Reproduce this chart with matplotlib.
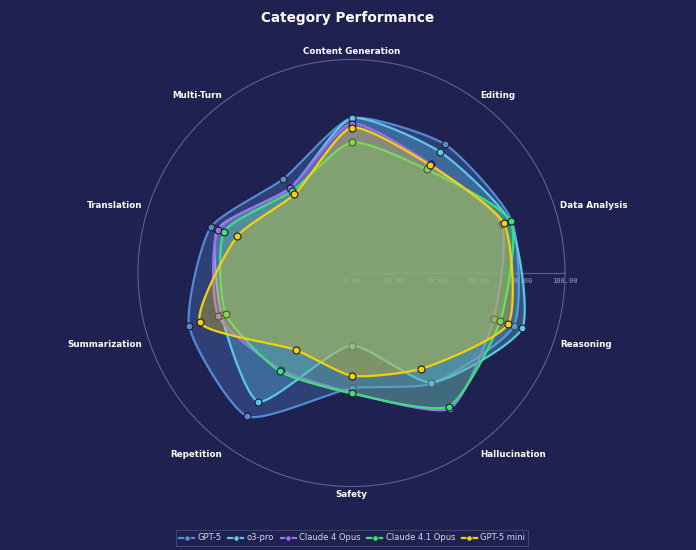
import matplotlib.pyplot as plt
import numpy as np
from matplotlib.lines import Line2D

categories = [
    "Content Generation", "Editing", "Data Analysis", "Reasoning", "Hallucination",
    "Safety", "Repetition", "Summarization", "Translation", "Multi-Turn",
]
models = ["GPT-5", "o3-pro", "Claude 4 Opus", "Claude 4.1 Opus", "GPT-5 mini"]
gpt5 = [72.5, 74.5, 79, 80, 64, 54, 83, 80, 69.3, 54.4]
o3_pro = [72.5, 70.3, 78, 84, 63.5, 34, 74.4, 64, 66, 49]
claude4_opus = [70, 63, 74, 70, 78.5, 56, 56, 65.6, 65.6, 49.2]
claude41_opus = [61.2, 60, 78.5, 73.2, 77.3, 56.4, 57, 62, 62.7, 47.4]
gpt5_mini = [68.1, 62.5, 75.1, 77.2, 55.5, 48.1, 44.5, 74.7, 56.2, 45.5]
radial_ticks = [0, 20, 40, 60, 80, 100]

colors = ["#5589d2", "#5cc8e8", "#9d6ff0", "#3ee07a", "#f5d10a"]
BG = "#1f2150"
SMOOTHING = 0.6


def smooth_closed(theta, r, smoothness=SMOOTHING, steps=40):
    # plotly-like spline (catmull-rom, exponent 0.5) computed in x/y space
    pts = np.column_stack([r * np.cos(theta), r * np.sin(theta)])
    n = len(pts)
    before, after = [], []
    for i in range(n):
        d1 = pts[i - 1] - pts[i]
        d2 = pts[(i + 1) % n] - pts[i]
        d1a = (d1 @ d1) ** 0.25
        d2a = (d2 @ d2) ** 0.25
        num = (d2a ** 2 * d1 - d1a ** 2 * d2) * smoothness
        before.append(pts[i] + num / (3 * d2a * (d1a + d2a)))
        after.append(pts[i] - num / (3 * d1a * (d1a + d2a)))
    t = np.linspace(0, 1, steps, endpoint=False)[:, None]
    out = []
    for i in range(n):
        p0, p1, p2, p3 = pts[i], after[i], before[(i + 1) % n], pts[(i + 1) % n]
        out.append((1 - t) ** 3 * p0 + 3 * (1 - t) ** 2 * t * p1 + 3 * (1 - t) * t ** 2 * p2 + t ** 3 * p3)
    out = np.vstack(out + [pts[:1]])
    th = np.unwrap(np.arctan2(out[:, 1], out[:, 0]))
    return th, np.hypot(out[:, 0], out[:, 1])


fig = plt.figure(figsize=(6.96, 5.5), dpi=100, facecolor=BG)
ax = fig.add_axes([138 / 696, 63.5 / 550, 427 / 696, 427 / 550], projection="polar")
ax.set_facecolor(BG)
ax.set_ylim(0, 100)
ax.grid(False)
ax.set_xticks([])
ax.set_yticks([])
ax.spines["polar"].set_color("#5e6090")
ax.spines["polar"].set_linewidth(0.8)

angles = np.pi / 2 - np.arange(len(categories)) * 2 * np.pi / len(categories)

# radial axis line + tick labels (under the fills)
ax.plot([0, 0], [0, 100], color="#5e6090", lw=0.8, zorder=0.5)
for v in radial_ticks:
    ax.annotate(f"{v:.2f}", (0, v), xytext=(0, -6), textcoords="offset points",
                ha="center", va="center", fontsize=5, color="#9ea0c0",
                family="DejaVu Sans Mono", zorder=0.6, annotation_clip=False)

series = [gpt5, o3_pro, claude4_opus, claude41_opus, gpt5_mini]
for k, (vals, col) in enumerate(zip(series, colors)):
    vals = np.array(vals, dtype=float)
    th, rr = smooth_closed(angles, vals)
    z = 1 + k
    ax.fill(th, rr, color=col, alpha=0.3, lw=0, zorder=z)
    ax.plot(th, rr, color=col, lw=1.6, zorder=z + 0.1)
    ax.plot(angles, vals, "o", ms=5, mfc=col, mec="#1a1a30", mew=0.8, zorder=z + 0.2, clip_on=False)

for ang, name in zip(angles, categories):
    c, s = np.cos(ang), np.sin(ang)
    if abs(c) < 0.1:
        ha, va = "center", ("bottom" if s > 0 else "top")
        dx, dy = 0, 2.3 * np.sign(s)
    else:
        ha, va = ("left" if c > 0 else "right"), "center"
        dx, dy = 4.5 * c, 4.5 * s
        if s < 0:
            dy -= 2.5
    ax.annotate(name, (ang, 100), xytext=(dx, dy), textcoords="offset points",
                ha=ha, va=va, fontsize=6.3, fontweight="bold", color="white",
                annotation_clip=False)

fig.text(0.5, 1 - 18 / 550, "Category Performance", ha="center", va="center",
         fontsize=9.8, fontweight="bold", color="white")

handles = [Line2D([], [], color=c, lw=1.6, marker="o", ms=4, mfc=c, mec="#1a1a30", mew=0.6)
           for c in colors]
leg = fig.legend(handles, models, loc="lower center", bbox_to_anchor=(0.506, 0.0), ncol=5,
                 fontsize=6, frameon=True, handlelength=1.8, columnspacing=0.8,
                 handletextpad=0.4, borderpad=0.4, fancybox=False)
leg.get_frame().set_facecolor(BG)
leg.get_frame().set_edgecolor("#4a4c78")
leg.get_frame().set_linewidth(0.8)
for t in leg.get_texts():
    t.set_color("#d8d8e8")

fig.savefig("out.png", dpi=100, facecolor=BG)
